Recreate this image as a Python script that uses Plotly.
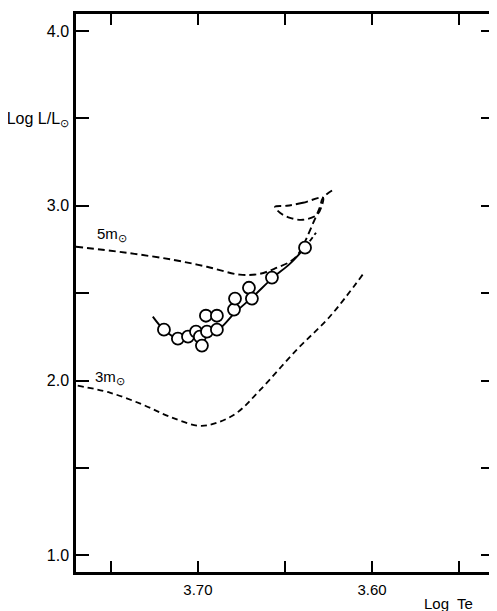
import plotly.graph_objects as go

# 5 solar mass evolutionary track (main branch)
m5_x = [3.7701, 3.7408, 3.7144, 3.6948, 3.6759, 3.6644, 3.6546, 3.6471, 3.6431, 3.6397, 3.6345, 3.6299, 3.6282, 3.6224]
m5_y = [2.766, 2.731, 2.691, 2.651, 2.606, 2.611, 2.646, 2.680, 2.714, 2.771, 2.886, 2.994, 3.046, 3.091]
# 5 solar mass blue loop
loop_x = [3.6282, 3.6397, 3.6489, 3.6557, 3.6529, 3.6471, 3.6397, 3.6316, 3.6287, 3.6282]
loop_y = [3.046, 3.017, 3.000, 2.994, 2.960, 2.931, 2.920, 2.949, 3.006, 3.046]
# 3 solar mass track
m3_x = [3.769, 3.7506, 3.7316, 3.7161, 3.6989, 3.6891, 3.6776, 3.6644, 3.6431, 3.6241, 3.6052]
m3_y = [1.971, 1.931, 1.862, 1.793, 1.741, 1.759, 1.816, 1.945, 2.178, 2.368, 2.609]
# observed sequence (solid fit line)
fit_x = [3.7259, 3.7195, 3.7115, 3.7017, 3.6891, 3.6787, 3.6684, 3.6569, 3.6471, 3.6385]
fit_y = [2.366, 2.291, 2.240, 2.257, 2.286, 2.389, 2.480, 2.589, 2.669, 2.760]
ext_x = [3.6385, 3.6322]
ext_y = [2.760, 2.846]
# stars
star_x = [3.7195, 3.7115, 3.7057, 3.7011, 3.6989, 3.6948, 3.6891, 3.6977, 3.6954, 3.6891,
          3.6793, 3.6787, 3.6707, 3.6690, 3.6575, 3.6385]
star_y = [2.291, 2.240, 2.251, 2.280, 2.251, 2.280, 2.291, 2.200, 2.371, 2.371,
          2.406, 2.469, 2.531, 2.469, 2.589, 2.760]

x_ticks = [3.75, 3.70, 3.65, 3.60, 3.55]
x_labels = ["", "3.70", "", "3.60", ""]
y_ticks = [1.0, 1.5, 2.0, 2.5, 3.0, 3.5, 4.0]
y_labels = ["1.0", "", "2.0", "", "3.0", "Log L/L<sub>⊙</sub>", "4.0"]

FONT = "Liberation Sans"
dash_style = "7px,4px"

fig = go.Figure()
fig.add_trace(go.Scatter(x=m5_x, y=m5_y, mode="lines",
                         line=dict(color="black", width=1.9, dash=dash_style, shape="spline"),
                         hoverinfo="skip"))
fig.add_trace(go.Scatter(x=loop_x, y=loop_y, mode="lines",
                         line=dict(color="black", width=1.9, dash=dash_style, shape="spline"),
                         hoverinfo="skip"))
fig.add_trace(go.Scatter(x=m3_x, y=m3_y, mode="lines",
                         line=dict(color="black", width=1.8, dash="6px,4px", shape="spline"),
                         hoverinfo="skip"))
fig.add_trace(go.Scatter(x=fit_x, y=fit_y, mode="lines",
                         line=dict(color="black", width=1.9, shape="spline"),
                         hoverinfo="skip"))
fig.add_trace(go.Scatter(x=ext_x, y=ext_y, mode="lines",
                         line=dict(color="black", width=1.9, dash="5px,3px"),
                         hoverinfo="skip"))
fig.add_trace(go.Scatter(x=star_x, y=star_y, mode="markers",
                         marker=dict(size=12, color="white", line=dict(color="black", width=1.8)),
                         hoverinfo="skip"))

fig.add_annotation(x=3.7591, y=2.834, text="5m<sub>⊙</sub>", showarrow=False,
                   xanchor="left", yanchor="middle", font=dict(family=FONT, size=15, color="black"))
fig.add_annotation(x=3.7603, y=2.017, text="3m<sub>⊙</sub>", showarrow=False,
                   xanchor="left", yanchor="middle", font=dict(family=FONT, size=15, color="black"))
fig.add_annotation(xref="paper", yref="paper", x=0.892, y=-0.057, text="Log  Te", showarrow=False,
                   xanchor="center", yanchor="middle", font=dict(family=FONT, size=15, color="black"))

# page body has an 8px default margin, so the figure is offset by 8px
fig.update_layout(
    width=489, height=603,
    margin=dict(l=68, r=3, t=6, b=39, autoexpand=False),
    paper_bgcolor="white", plot_bgcolor="white",
    showlegend=False,
    font=dict(family=FONT, size=15, color="black"),
    xaxis=dict(range=[3.77, 3.53], tickvals=x_ticks, ticktext=x_labels,
               ticks="inside", ticklen=11, tickwidth=2, tickcolor="black",
               showline=True, linewidth=2.5, linecolor="black", mirror="ticks",
               showgrid=False, zeroline=False, ticklabelstandoff=2, automargin=False,
               tickfont=dict(family=FONT, size=15, color="black")),
    yaxis=dict(range=[0.905, 4.097], tickvals=y_ticks, ticktext=y_labels,
               ticks="inside", ticklen=13, tickwidth=2, tickcolor="black",
               showline=True, linewidth=2.5, linecolor="black", mirror="ticks",
               showgrid=False, zeroline=False, ticklabelstandoff=1, automargin=False,
               tickfont=dict(family=FONT, size=16, color="black")),
)

fig.write_html("out.html")
